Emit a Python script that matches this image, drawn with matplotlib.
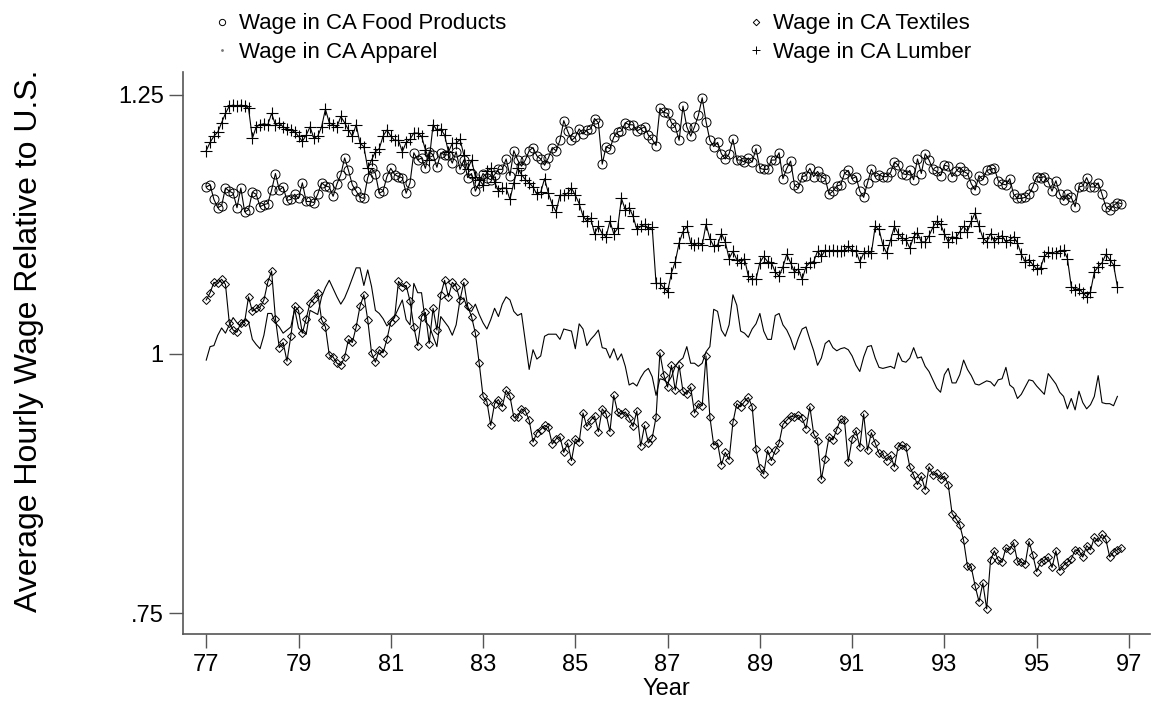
# ::::::::::::::::::::::::::::::::::::::::::::::::::::::::::::::::::::::::
# :::        California wages relative to U.S., four industries        :::
# ::::::::::::::::::::::::::::::::::::::::::::::::::::::::::::::::::::::::

import numpy as np
import matplotlib
matplotlib.use("Agg")
import matplotlib.pyplot as plt
from matplotlib.lines import Line2D

# ::: Monthly series, starting 1977m1 :::
food = [
    1.161, 1.163, 1.149, 1.141, 1.143, 1.160, 1.157, 1.155, 1.141, 1.160,
    1.137, 1.139, 1.156, 1.154, 1.142, 1.144, 1.145, 1.158, 1.174, 1.158,
    1.161, 1.148, 1.149, 1.154, 1.150, 1.165, 1.147, 1.147, 1.146, 1.154,
    1.165, 1.162, 1.161, 1.152, 1.164, 1.173, 1.189, 1.177, 1.163, 1.157,
    1.151, 1.150, 1.170, 1.179, 1.174, 1.155, 1.157, 1.171, 1.179, 1.173,
    1.171, 1.170, 1.155, 1.165, 1.194, 1.187,
    1.189, 1.179, 1.195, 1.192, 1.180, 1.194, 1.192, 1.192, 1.184, 1.195,
    1.178, 1.187, 1.170, 1.174, 1.157, 1.165, 1.174, 1.170, 1.168, 1.173,
    1.178, 1.178, 1.188, 1.172, 1.196, 1.187, 1.181, 1.187, 1.196, 1.199,
    1.191, 1.188, 1.182, 1.189, 1.199, 1.196, 1.206, 1.225, 1.215, 1.206,
    1.209, 1.217, 1.212, 1.216, 1.217, 1.227, 1.223, 1.183, 1.200, 1.198,
    1.209, 1.214, 1.215, 1.223, 1.221, 1.221, 1.215, 1.217, 1.219,
    1.211, 1.207, 1.201, 1.237, 1.233, 1.232, 1.223, 1.219, 1.206, 1.239,
    1.219, 1.210, 1.219, 1.230, 1.247, 1.224, 1.206, 1.200, 1.204, 1.193,
    1.188, 1.193, 1.207, 1.187, 1.187, 1.185, 1.189, 1.185, 1.198, 1.179,
    1.178, 1.178, 1.187, 1.187, 1.194, 1.169, 1.179, 1.186, 1.163, 1.160,
    1.171, 1.172, 1.179, 1.171, 1.176, 1.171, 1.169, 1.154, 1.157, 1.162,
    1.163, 1.174, 1.177, 1.169, 1.171, 1.157, 1.151, 1.165, 1.178, 1.171,
    1.173, 1.171, 1.171,
    1.175, 1.185, 1.182, 1.174, 1.173, 1.177, 1.168, 1.188, 1.174, 1.193,
    1.187, 1.178, 1.176, 1.172, 1.182, 1.181, 1.171, 1.176, 1.180, 1.176,
    1.174, 1.164, 1.158, 1.172, 1.168, 1.177, 1.178, 1.179, 1.167, 1.164,
    1.163, 1.169, 1.154, 1.150, 1.150, 1.151, 1.154, 1.161, 1.171, 1.170,
    1.171, 1.166, 1.157, 1.167, 1.154, 1.148, 1.154, 1.151, 1.142, 1.161,
    1.162, 1.170, 1.161, 1.161, 1.165, 1.154, 1.142, 1.139, 1.143, 1.146,
    1.145,
]

textiles = [
    1.052, 1.059, 1.069, 1.068, 1.072, 1.067, 1.030, 1.023, 1.021, 1.030,
    1.031, 1.055, 1.041, 1.044, 1.045, 1.052, 1.069, 1.080, 1.034, 1.006,
    1.011, 0.993, 1.017, 1.046, 1.042, 1.020, 1.034, 1.049, 1.053, 1.059,
    1.033, 1.026, 0.999, 0.997, 0.991, 0.989, 0.997, 1.014, 1.011, 1.026,
    1.046, 1.057, 1.033, 1.001, 0.992, 1.004, 1.001, 1.014, 1.031, 1.035,
    1.070, 1.065, 1.066, 1.051, 1.026, 1.008,
    1.036, 1.040, 1.010, 1.044, 1.023, 1.057, 1.071, 1.055, 1.069, 1.065,
    1.052, 1.069, 1.046, 1.036, 1.020, 0.991, 0.959, 0.954, 0.931, 0.952,
    0.956, 0.949, 0.965, 0.959, 0.939, 0.939, 0.947, 0.945, 0.936, 0.915,
    0.924, 0.927, 0.931, 0.929, 0.913, 0.918, 0.920, 0.905, 0.914, 0.897,
    0.918, 0.915, 0.943, 0.930, 0.936, 0.940, 0.925, 0.947, 0.942, 0.925,
    0.960, 0.944, 0.942, 0.944, 0.938, 0.930, 0.945, 0.911, 0.931,
    0.914, 0.919, 0.939, 1.001, 0.980, 0.968, 0.989, 0.965, 0.989, 0.964,
    0.961, 0.968, 0.943, 0.952, 0.950, 0.998, 0.939, 0.912, 0.914, 0.893,
    0.905, 0.898, 0.934, 0.952, 0.949, 0.954, 0.958, 0.949, 0.908, 0.890,
    0.884, 0.907, 0.897, 0.907, 0.914, 0.932, 0.936, 0.940, 0.939, 0.941,
    0.938, 0.928, 0.949, 0.923, 0.916, 0.879, 0.899, 0.920, 0.917, 0.927,
    0.937, 0.936, 0.896, 0.918, 0.926, 0.910, 0.942, 0.907, 0.924, 0.914,
    0.904, 0.903, 0.897,
    0.902, 0.891, 0.911, 0.912, 0.910, 0.891, 0.883, 0.874, 0.882, 0.869,
    0.891, 0.883, 0.885, 0.879, 0.882, 0.874, 0.846, 0.841, 0.835, 0.820,
    0.795, 0.794, 0.776, 0.761, 0.779, 0.754, 0.801, 0.810, 0.801, 0.799,
    0.813, 0.811, 0.818, 0.800, 0.799, 0.797, 0.819, 0.806, 0.790, 0.799,
    0.801, 0.804, 0.794, 0.810, 0.791, 0.796, 0.799, 0.802, 0.811, 0.810,
    0.804, 0.815, 0.811, 0.823, 0.819, 0.826, 0.821, 0.804, 0.809, 0.811,
    0.813,
]

apparel = [
    0.994, 1.007, 1.008, 1.018, 1.025, 1.020, 1.028, 1.035, 1.030, 1.027,
    1.033, 1.031, 1.014, 1.009, 1.005, 1.018, 1.039, 1.039, 1.030, 1.026,
    1.020, 1.023, 1.026, 1.043, 1.025, 1.021, 1.019, 1.042, 1.040, 1.038,
    1.055, 1.064, 1.071, 1.063, 1.055, 1.048, 1.054, 1.063, 1.073, 1.083,
    1.083, 1.066, 1.081, 1.065, 1.042, 1.039, 1.034, 1.027, 1.031, 1.036,
    1.044, 1.052, 1.033, 1.028,
    1.068, 1.059, 1.059, 1.031, 1.027, 1.017, 1.007, 1.036, 1.031, 1.026,
    1.018, 1.028, 1.052, 1.054, 1.043, 1.041, 1.048, 1.038, 1.030, 1.024,
    1.033, 1.044, 1.036, 1.048, 1.055, 1.052, 1.041, 1.037, 1.039, 1.012,
    0.985, 1.004, 0.995, 0.998, 1.017, 1.019, 1.019, 1.019, 1.014, 1.024,
    1.023, 1.022, 1.005, 1.029, 1.024, 1.008, 1.014, 1.018, 1.023, 1.006,
    1.005, 0.996, 1.005, 0.994, 1.000, 0.988, 0.970, 0.972, 0.969, 0.977,
    0.983,
    0.986, 0.978, 0.960, 0.976, 0.975, 0.972, 0.978, 0.988, 0.993, 0.996,
    1.007, 0.991, 0.991, 0.988, 0.991, 1.002, 1.007, 1.043, 1.041, 1.023,
    1.017, 1.028, 1.057, 1.047, 1.022, 1.020, 1.016, 1.024, 1.029, 1.039,
    1.022, 1.014, 1.014, 1.037, 1.039, 1.028, 1.023, 1.015, 1.004, 1.015,
    1.024, 1.026, 1.014, 1.003, 0.989, 0.996, 1.010, 1.013, 1.006, 1.003,
    1.005, 1.006, 1.004, 0.998, 0.989, 0.983, 0.997, 1.007, 1.008, 0.996,
    0.987, 0.986, 0.987,
    0.988, 0.986, 1.001, 0.993, 0.992, 0.996, 1.006, 0.996, 0.997, 0.988,
    0.983, 0.975, 0.967, 0.963, 0.980, 0.986, 0.972, 0.972, 0.980, 0.994,
    0.985, 0.979, 0.971, 0.970, 0.972, 0.974, 0.973, 0.969, 0.975, 0.976,
    0.987, 0.970, 0.967, 0.957, 0.961, 0.968, 0.975, 0.974, 0.969, 0.965,
    0.961, 0.981, 0.976, 0.971, 0.963, 0.959, 0.947, 0.957, 0.946, 0.964,
    0.953, 0.947, 0.951, 0.959, 0.979, 0.953, 0.952, 0.952, 0.950, 0.959,
]

lumber = [
    1.196, 1.204, 1.210, 1.214, 1.223, 1.232, 1.239, 1.240, 1.239, 1.240,
    1.239, 1.237, 1.208, 1.219, 1.221, 1.222, 1.221, 1.232, 1.221, 1.223,
    1.219, 1.217, 1.216, 1.214, 1.210, 1.205, 1.211, 1.219, 1.208, 1.210,
    1.219, 1.236, 1.223, 1.221, 1.219, 1.229, 1.223, 1.216, 1.210, 1.221,
    1.203, 1.200, 1.179, 1.187, 1.195, 1.198, 1.210, 1.216, 1.210, 1.206,
    1.206, 1.195, 1.204, 1.207, 1.213, 1.213, 1.210, 1.197, 1.187, 1.221,
    1.216, 1.217, 1.211, 1.195, 1.203, 1.203, 1.207, 1.192, 1.178, 1.187,
    1.171, 1.168, 1.163, 1.176, 1.179, 1.166, 1.157, 1.160, 1.160, 1.149,
    1.165, 1.179, 1.173, 1.168, 1.165, 1.161, 1.154, 1.156, 1.169, 1.155,
    1.144, 1.137, 1.153, 1.153, 1.155, 1.160, 1.153, 1.145, 1.133, 1.128,
    1.131, 1.116, 1.123, 1.116, 1.113, 1.128, 1.116, 1.121, 1.150, 1.139,
    1.141, 1.133, 1.120, 1.123, 1.125, 1.120, 1.122, 1.068, 1.068, 1.064,
    1.060, 1.078, 1.089, 1.107, 1.118, 1.123, 1.107, 1.105, 1.107, 1.105,
    1.125, 1.111, 1.104, 1.105, 1.116, 1.108, 1.092, 1.099, 1.091, 1.088,
    1.092, 1.075, 1.072, 1.072, 1.088, 1.094, 1.089, 1.088, 1.079, 1.075,
    1.084, 1.096, 1.088, 1.079, 1.082, 1.072, 1.084, 1.088, 1.089, 1.099,
    1.094, 1.100, 1.099, 1.100, 1.099, 1.099, 1.100, 1.104, 1.100, 1.099,
    1.089, 1.097, 1.099, 1.097, 1.123, 1.120, 1.105, 1.097, 1.110, 1.123,
    1.116, 1.112, 1.110, 1.102, 1.113, 1.117, 1.108, 1.108, 1.114, 1.122,
    1.128, 1.125, 1.116, 1.108, 1.113, 1.112, 1.118, 1.123, 1.118, 1.128,
    1.136, 1.123, 1.112, 1.108, 1.116, 1.108, 1.112, 1.114, 1.108, 1.110,
    1.113, 1.107, 1.096, 1.089, 1.091, 1.086, 1.082, 1.083, 1.094, 1.098,
    1.097, 1.097, 1.099, 1.100, 1.092, 1.065, 1.062, 1.063, 1.059, 1.055,
    1.060, 1.079, 1.084, 1.088, 1.096, 1.091, 1.086, 1.065,
]

labels = ["Wage in CA Food Products", "Wage in CA Textiles",
          "Wage in CA Apparel", "Wage in CA Lumber"]

year_ticks = list(range(77, 98, 2))
wage_ticks = [0.75, 1.0, 1.25]
wage_ticklabels = [".75", "1", "1.25"]


def months(series):
    # x position in years, one point per month from 1977m1
    return 77 + np.arange(len(series)) / 12.0


plt.rcParams["font.family"] = ["Liberation Sans", "DejaVu Sans"]

fig = plt.figure(figsize=(11.52, 7.03), dpi=100)
ax = fig.add_axes([0.159, 0.098, 0.839, 0.800])

# ::: Series :::
ax.plot(months(food), food, color="black", lw=0.8, marker="o", ms=6.5,
        mfc="none", mew=0.7)
ax.plot(months(textiles), textiles, color="black", lw=0.8, marker="D",
        ms=4.3, mfc="none", mew=0.7)
ax.plot(months(apparel), apparel, color="black", lw=0.8)
ax.plot(months(lumber), lumber, color="black", lw=0.8, marker="+", ms=8,
        mew=0.8)

# ::: Axes :::
ax.set_xlim(76.50, 97.45)
ax.set_ylim(0.7297, 1.2722)
ax.set_xticks(year_ticks)
ax.set_xticklabels([str(y) for y in year_ticks])
ax.set_yticks(wage_ticks)
ax.set_yticklabels(wage_ticklabels)

for side in ["top", "right"]:
    ax.spines[side].set_visible(False)
for side in ["left", "bottom"]:
    ax.spines[side].set_color("#555555")
    ax.spines[side].set_linewidth(1.2)

ax.tick_params(axis="both", direction="out", length=10, width=1.0,
               color="#555555", labelsize=17, pad=4)
ax.set_xlabel("Year", fontsize=17, labelpad=2)
fig.text(0.025, 0.515, "Average Hourly Wage Relative to U.S.", rotation=90,
         ha="center", va="center", fontsize=23)

# ::: Legend (markers only, two columns) :::
handles = [
    Line2D([], [], ls="none", marker="o", ms=4.5, mfc="none", mec="black", mew=0.7),
    Line2D([], [], ls="none", marker=".", ms=2, color="#777777"),
    Line2D([], [], ls="none", marker="D", ms=3.3, mfc="none", mec="black", mew=0.7),
    Line2D([], [], ls="none", marker="+", ms=6, color="black", mew=0.7),
]
order = [0, 2, 1, 3]
fig.legend(handles, [labels[i] for i in order], ncol=2, loc="upper left",
           bbox_to_anchor=(0.175, 1.0), frameon=False, fontsize=16,
           handlelength=0.6, handletextpad=0.5, columnspacing=10.9,
           labelspacing=0.35, borderaxespad=0.2)

fig.savefig("out.png", dpi=100)
